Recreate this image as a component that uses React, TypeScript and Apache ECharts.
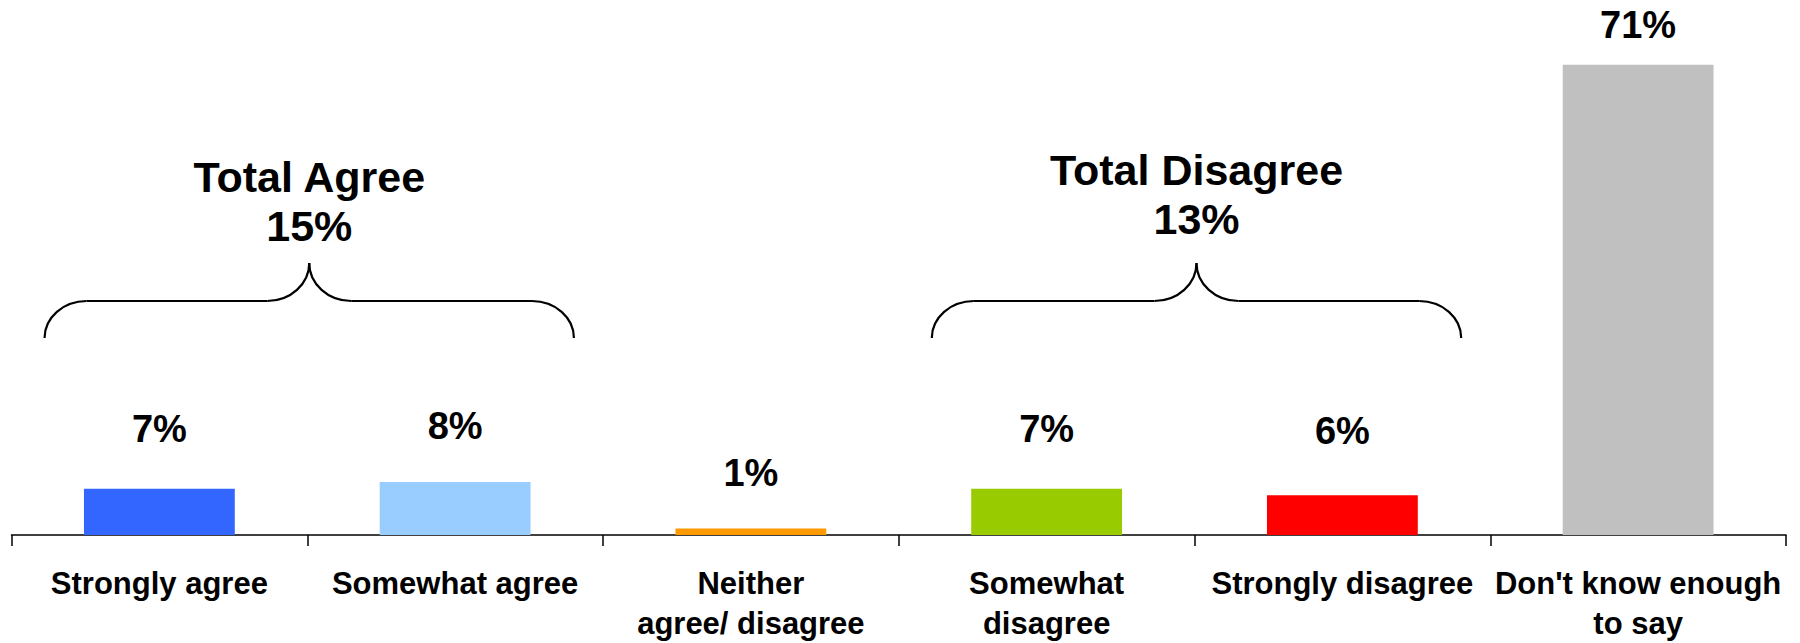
import React, { useEffect, useRef } from "react";
import * as echarts from "echarts";

const categories = [
  "Strongly agree",
  "Somewhat agree",
  "Neither\nagree/ disagree",
  "Somewhat\ndisagree",
  "Strongly disagree",
  "Don't know enough\nto say",
];
const values = [7, 8, 1, 7, 6, 71];
const barColors = ["#3366FF", "#99CCFF", "#FF9900", "#99CC00", "#FF0000", "#C0C0C0"];
const labelGaps = [41, 37, 36, 41, 45, 21];

const totalTitles = ["Total Agree", "Total Disagree"];
const totalValues = [15, 13];
const totalGroups = [
  [0, 1],
  [3, 4],
];
const totalTextShift = [0, -7];

const FONT = "'Liberation Sans', Arial, Helvetica, sans-serif";

export default function App() {
  const ref = useRef<HTMLDivElement>(null);

  useEffect(() => {
    if (!ref.current) return;
    const chart = echarts.init(ref.current, null, { renderer: "svg" });
    chart.setOption({
      animation: false,
      backgroundColor: "#ffffff",
      grid: { left: 11.5, right: 14, top: 5, bottom: 108, containLabel: false },
      xAxis: {
        type: "category",
        data: categories,
        axisLine: { show: true, lineStyle: { color: "#000", width: 1.5 } },
        axisTick: { show: true, length: 11, lineStyle: { color: "#000", width: 1.5 } },
        axisLabel: {
          interval: 0,
          margin: 28,
          color: "#000",
          fontFamily: FONT,
          fontWeight: "bold",
          fontSize: 31,
          lineHeight: 40,
        },
      },
      yAxis: {
        type: "value",
        min: 0,
        max: 80,
        show: false,
        splitLine: { show: false },
      },
      series: [
        {
          type: "bar",
          barCategoryGap: "49%",
          data: values.map((v, i) => ({
            value: v,
            itemStyle: { color: barColors[i] },
            label: { distance: labelGaps[i] },
          })),
          label: {
            show: true,
            position: "top",
            formatter: "{c}%",
            color: "#000",
            fontFamily: FONT,
            fontWeight: "bold",
            fontSize: 38,
            lineHeight: 38,
          },
        },
      ],
    });

    const k = 0.5523;
    const yCusp = 263;
    const yLine = 301;
    const yEnd = 338;
    const rx = 42;
    const ryEnd = yEnd - yLine;
    const ryMid = yLine - yCusp;
    const stroke = { stroke: "#000", lineWidth: 2.2, fill: "none" };

    const graphics: any[] = [];
    totalGroups.forEach((grp, gi) => {
      const p0 = chart.convertToPixel({ gridIndex: 0 }, [grp[0], 0]) as number[];
      const p1 = chart.convertToPixel({ gridIndex: 0 }, [grp[1], 0]) as number[];
      const step = p1[0] - p0[0];
      const xm = (p0[0] + p1[0]) / 2 + 2;
      const half = step * 0.895;
      const xl = xm - half;
      const xr = xm + half;
      graphics.push({
        type: "bezierCurve",
        shape: {
          x1: xl, y1: yEnd,
          cpx1: xl, cpy1: yEnd - k * ryEnd,
          cpx2: xl + rx - k * rx, cpy2: yLine,
          x2: xl + rx, y2: yLine,
        },
        style: stroke,
      });
      graphics.push({
        type: "line",
        shape: { x1: xl + rx, y1: yLine, x2: xm - rx, y2: yLine },
        style: stroke,
      });
      graphics.push({
        type: "bezierCurve",
        shape: {
          x1: xm - rx, y1: yLine,
          cpx1: xm - rx + k * rx, cpy1: yLine,
          cpx2: xm, cpy2: yCusp + k * ryMid,
          x2: xm, y2: yCusp,
        },
        style: stroke,
      });
      graphics.push({
        type: "bezierCurve",
        shape: {
          x1: xm, y1: yCusp,
          cpx1: xm, cpy1: yCusp + k * ryMid,
          cpx2: xm + rx - k * rx, cpy2: yLine,
          x2: xm + rx, y2: yLine,
        },
        style: stroke,
      });
      graphics.push({
        type: "line",
        shape: { x1: xm + rx, y1: yLine, x2: xr - rx, y2: yLine },
        style: stroke,
      });
      graphics.push({
        type: "bezierCurve",
        shape: {
          x1: xr - rx, y1: yLine,
          cpx1: xr - rx + k * rx, cpy1: yLine,
          cpx2: xr, cpy2: yEnd - k * ryEnd,
          x2: xr, y2: yEnd,
        },
        style: stroke,
      });
      const shift = totalTextShift[gi];
      graphics.push({
        type: "text",
        x: xm,
        y: 177 + shift,
        style: {
          text: totalTitles[gi],
          fill: "#000",
          font: `bold 43px ${FONT}`,
          textAlign: "center",
          textVerticalAlign: "middle",
        },
      });
      graphics.push({
        type: "text",
        x: xm,
        y: 225.5 + shift,
        style: {
          text: `${totalValues[gi]}%`,
          fill: "#000",
          font: `bold 43px ${FONT}`,
          textAlign: "center",
          textVerticalAlign: "middle",
        },
      });
    });
    chart.setOption({ graphic: graphics });

    return () => chart.dispose();
  }, []);

  return (
    <div
      ref={ref}
      style={{ position: "fixed", left: 0, top: 0, width: 1800, height: 643, background: "#fff" }}
    />
  );
}
